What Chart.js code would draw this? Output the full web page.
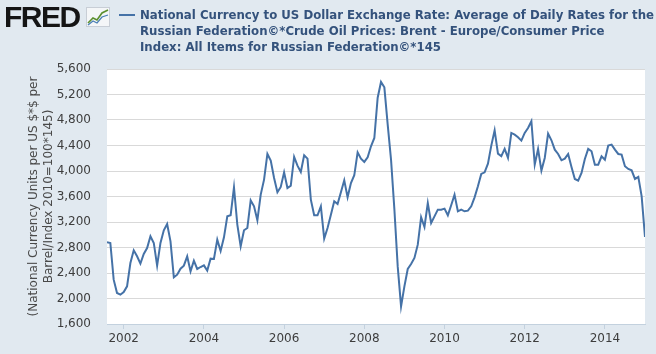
<!DOCTYPE html>
<html>
<head>
<meta charset="utf-8">
<script src="https://cdn.jsdelivr.net/npm/chart.js@4.4.1/dist/chart.umd.min.js"></script>
<style>
html,body{margin:0;padding:0;background:#e1e9f0;}
#wrap{position:relative;width:656px;height:354px;overflow:hidden;background:#e1e9f0;}
#logo{position:absolute;left:4px;top:1px;font:bold 30px "Liberation Sans",Arial,sans-serif;letter-spacing:-1.5px;color:#151515;line-height:32px;}
#icon{position:absolute;left:86px;top:7px;}
#dash{position:absolute;left:119px;top:14px;width:16px;height:2px;background:#4572a7;}
#leg{position:absolute;left:140px;top:7px;font:bold 11.75px "DejaVu Sans",Verdana,sans-serif;color:#34527c;line-height:16px;white-space:nowrap;}
#c{position:absolute;left:0;top:0;}
</style>
</head>
<body>
<div id="wrap">
<canvas id="c" width="656" height="354"></canvas>
<div id="logo">FRED</div>
<svg id="icon" width="24" height="20" viewBox="0 0 24 20">
<rect x="0.5" y="0.5" width="23" height="19" fill="#f4f6f8" stroke="#c8ced6"/>
<polyline points="2,16 7,11 11,13 16,6 22,3" fill="none" stroke="#5b8f2e" stroke-width="1.6"/>
<polyline points="2,18 7,14 11,16 16,10 22,8" fill="none" stroke="#4a7fb5" stroke-width="1.3"/>
</svg>
<div id="dash"></div>
<div id="leg">National Currency to US Dollar Exchange Rate: Average of Daily Rates for the<br>Russian Federation©*Crude Oil Prices: Brent - Europe/Consumer Price<br>Index: All Items for Russian Federation©*145</div>
</div>
<script>
// Monthly observations, starting 2001-08
const startYear = 2001;
const startMonth = 8;
const values = [
  2881, 2871, 2296, 2086, 2060,
  2102, 2191, 2557, 2756, 2662, 2547, 2698, 2792, 2975, 2871, 2515, 2871,
  3070, 3169, 2897, 2332, 2374, 2468, 2515, 2662, 2426, 2594, 2463, 2494,
  2520, 2437, 2625, 2620, 2923, 2745, 2960, 3289, 3305, 3744, 3159, 2819,
  3070, 3106, 3540, 3446, 3227, 3629, 3865, 4267, 4163, 3891, 3666, 3750,
  3980, 3734, 3770, 4220, 4084, 3985, 4246, 4194, 3551, 3305, 3305, 3446,
  2939, 3106, 3315, 3525, 3483, 3666, 3854, 3587, 3812, 3933, 4293, 4194,
  4142, 4215, 4388, 4518, 5150, 5397, 5313, 4727, 4178, 3400, 2500, 1877,
  2191, 2463, 2541, 2636, 2845, 3274, 3122, 3498, 3185, 3289, 3394, 3394,
  3410, 3305, 3462, 3629, 3368, 3394, 3368, 3378, 3446, 3587, 3760, 3954,
  3980, 4116, 4398, 4639, 4273, 4231, 4346, 4205, 4597, 4571, 4529, 4477,
  4597, 4675, 4780, 4100, 4346, 4006, 4205, 4586, 4482, 4335, 4267, 4168,
  4194, 4267, 4063, 3875, 3849, 3969, 4189, 4346, 4309, 4100, 4100, 4231,
  4178, 4398, 4414, 4335, 4267, 4257, 4074, 4032, 4011, 3875, 3907, 3603,
  2965
];
const xTickYears = [2002, 2004, 2006, 2008, 2010, 2012, 2014];
const yTickValues = [1600, 2000, 2400, 2800, 3200, 3600, 4000, 4400, 4800, 5200, 5600];
const yTitle = ['(National Currency Units per US $*$ per', 'Barrel/Index 2010=100*145)'];

const points = values.map((v, i) => {
  const mIndex = (startMonth - 1) + i;
  return { x: startYear + mIndex / 12, y: v };
});

const plotBg = {
  id: 'plotBg',
  beforeDraw(chart) {
    const {ctx, chartArea: a} = chart;
    ctx.save();
    ctx.fillStyle = '#ffffff';
    ctx.fillRect(a.left, a.top, a.right - a.left, a.bottom - a.top);
    ctx.restore();
  }
};

const tickColor = '#3d3d3d';
const tickFont = { family: '"DejaVu Sans", Verdana, sans-serif', size: 12 };

new Chart(document.getElementById('c'), {
  type: 'line',
  data: {
    datasets: [{
      data: points,
      borderColor: '#4572a7',
      borderWidth: 2,
      pointRadius: 0,
      tension: 0,
      fill: false
    }]
  },
  options: {
    responsive: false,
    devicePixelRatio: 1,
    animation: false,
    layout: { padding: { top: 69, right: 11, left: 0, bottom: 0 } },
    plugins: { legend: { display: false }, tooltip: { enabled: false } },
    scales: {
      x: {
        type: 'linear',
        min: startYear + (startMonth - 1) / 12,
        max: 2015,
        afterBuildTicks: s => { s.ticks = xTickYears.map(v => ({ value: v })); },
        afterFit: s => { s.height = 30; },
        ticks: { color: tickColor, font: tickFont, padding: 3, maxRotation: 0, callback: v => String(v) },
        grid: { display: true, drawOnChartArea: false, drawTicks: true, tickLength: 5, color: '#c3d1de' },
        border: { display: true, color: '#c3d1de', width: 1 }
      },
      y: {
        type: 'linear',
        min: 1600,
        max: 5600,
        afterBuildTicks: s => { s.ticks = yTickValues.map(v => ({ value: v })); },
        afterFit: s => { s.width = 107; },
        ticks: { color: tickColor, font: tickFont, padding: 16, callback: v => v.toLocaleString('en-US') },
        grid: { color: '#d9d9d9', drawTicks: false, lineWidth: 1 },
        border: { display: false },
        title: {
          display: true,
          text: yTitle,
          color: '#4a4a4a',
          font: { family: '"DejaVu Sans", Verdana, sans-serif', size: 12, lineHeight: 1.25 },
          padding: { top: 26, bottom: 0 }
        }
      }
    }
  },
  plugins: [plotBg]
});
</script>
</body>
</html>
